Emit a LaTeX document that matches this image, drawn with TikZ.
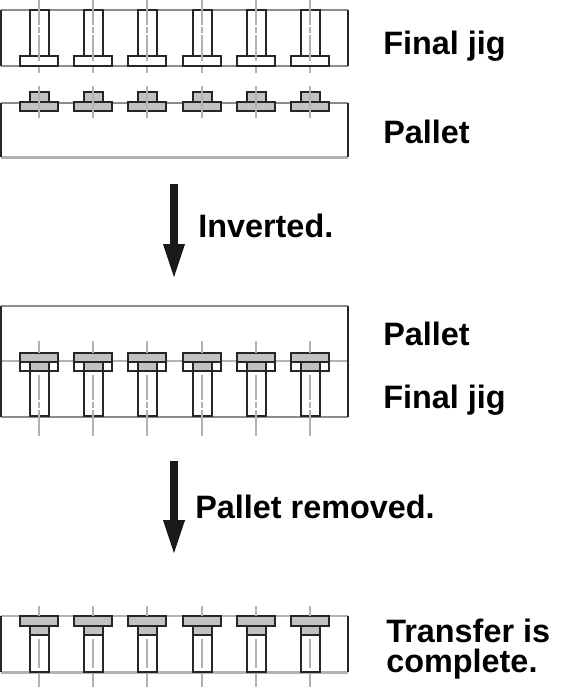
\documentclass[tikz,border=0pt]{standalone}
\usepackage{fontspec}
\setmainfont{Liberation Sans}
\usetikzlibrary{arrows.meta, positioning}
\definecolor{framegray}{gray}{0.55}
\definecolor{softgray}{gray}{0.7}
\definecolor{partgray}{gray}{0.76}
\definecolor{axisgray}{gray}{0.7}
\definecolor{inkdark}{gray}{0.15}

\begin{document}
\begin{tikzpicture}[
    x=0.75pt, y=-0.75pt,
    frameline/.style={draw=framegray, line width=1.4pt},
    framesoft/.style={draw=softgray, line width=2.2pt},
    frameside/.style={draw=inkdark, line width=1.1pt},
    part/.style={draw=inkdark, line width=1.5pt, fill=white},
    shaded/.style={part, fill=partgray},
    axisline/.style={draw=axisgray, line width=2pt},
    axisbroken/.style={axisline, dash pattern=on 19pt off 1.5pt on 4pt off 1.5pt on 20pt off 4pt},
    caption/.style={font=\fontsize{24.3pt}{27pt}\selectfont\bfseries, anchor=base west, inner sep=0pt},
    bigarrow/.style={draw=black!90, line width=6pt, -{Triangle[width=14.5pt, length=27pt]}}
  ]
  \useasboundingbox (0,0) rectangle (575,688);

  % Final jig and pallet, apart
  \draw[frameline] (1,10) -- (348,10) (1,66) -- (348,66);
  \draw[frameline] (1,103) -- (348,103);
  \draw[framesoft] (1,157.5) -- (348,157.5);
  \draw[frameside] (1,10) -- (1,66) (348,10) -- (348,66);
  \draw[frameside] (1,103) -- (1,157) (348,103) -- (348,157);
  \foreach \px in {39,93,147,202,256,310} {
    \draw[part] (\px-9.5,10) rectangle (\px+9.5,56);
    \draw[part] (\px-19,56) rectangle (\px+19,66);
    \draw[shaded] (\px-9.5,92) rectangle (\px+9.5,102);
    \draw[shaded] (\px-19,102) rectangle (\px+19,111);
    \draw[axisbroken] (\px,0) -- (\px,73);
    \draw[axisline] (\px,86) -- (\px,118);
  }

  % Inverted
  \draw[frameline] (1,306) -- (348,306) (1,417) -- (348,417);
  \draw[framesoft] (1,361) -- (348,361);
  \draw[frameside] (1,306) -- (1,417) (348,306) -- (348,417);
  \foreach \px in {39,93,147,202,256,310} {
    \draw[part] (\px-9.5,371) rectangle (\px+9.5,416);
    \draw[part] (\px-19,353) rectangle (\px+19,371);
    \draw[shaded] (\px-19,353) rectangle (\px+19,362);
    \draw[shaded] (\px-9.5,362) rectangle (\px+9.5,371);
    \draw[axisline] (\px,341) -- (\px,353);
    \draw[axisbroken] (\px,375) -- (\px,437);
  }

  % Transfer finished
  \draw[framesoft] (1,616) -- (348,616) (1,672.5) -- (348,672.5);
  \draw[frameside] (1,616) -- (1,672) (348,616) -- (348,672);
  \foreach \px in {39,93,147,202,256,310} {
    \draw[part] (\px-9.5,635) rectangle (\px+9.5,672);
    \draw[shaded] (\px-19,616) rectangle (\px+19,626);
    \draw[shaded] (\px-9.5,626) rectangle (\px+9.5,635);
    \draw[axisline] (\px,606) -- (\px,616);
    \draw[axisline] (\px,639) -- (\px,668);
    \draw[axisline] (\px,673) -- (\px,687);
  }

  % Arrows
  \coordinate (arrowa) at (174,184);
  \coordinate (arrowb) at (174,280);
  \coordinate (arrowc) at (174,461);
  \coordinate (arrowd) at (174,556);
  \draw[bigarrow] (arrowa) -- (arrowb);
  \draw[bigarrow] (arrowc) -- (arrowd);

  % Labels
  \node[caption] (jigtop) at (383,55) {Final jig};
  \node[caption] (pallettop) at (383,144) {Pallet};
  \node[caption] (inverted) at (198,237) {Inverted.};
  \node[caption] (palletmid) at (383,345) {Pallet};
  \node[caption] (jigmid) at (383,408) {Final jig};
  \node[caption] (removed) at (195,518) {Pallet removed.};
  \node[caption] (transfer) at (386,642) {Transfer is};
  \node[caption] (complete) at (386,672) {complete.};
\end{tikzpicture}
\end{document}
